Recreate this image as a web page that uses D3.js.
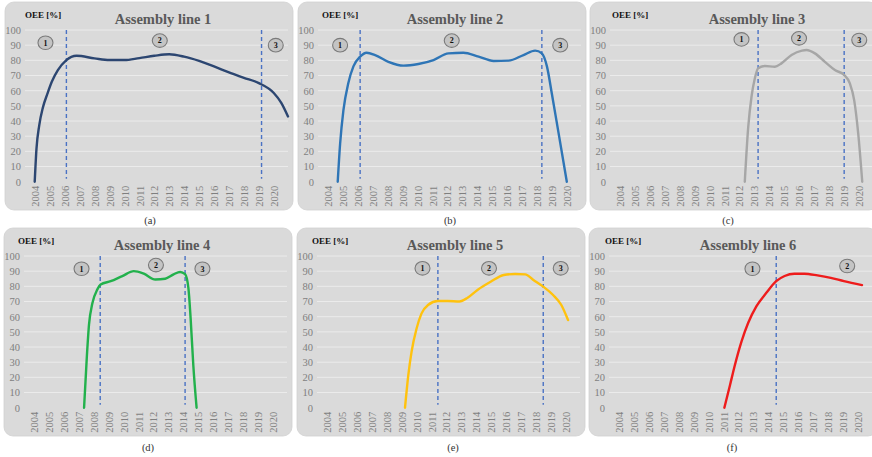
<!DOCTYPE html>
<html>
<head>
<meta charset="utf-8">
<script src="https://cdn.jsdelivr.net/npm/d3@7"></script>
<style>
  html, body { margin: 0; padding: 0; background: #ffffff; }
  svg { display: block; }
  svg text { font-family: "Liberation Serif", "DejaVu Serif", serif; }
</style>
</head>
<body>
<svg id="chart" width="872" height="457"></svg>
<script>
// ---------- DATA ----------
const yearLabels = ["2004","2005","2006","2007","2008","2009","2010","2011","2012",
                    "2013","2014","2015","2016","2017","2018","2019","2020"];
const yTickValues = [0, 10, 20, 30, 40, 50, 60, 70, 80, 90, 100];
const panelTitles = ["Assembly line 1","Assembly line 2","Assembly line 3",
                     "Assembly line 4","Assembly line 5","Assembly line 6"];
const panelCaptions = ["(a)","(b)","(c)","(d)","(e)","(f)"];
const lineColors = ["#2c4671","#2e75b6","#a6a6a6","#22b14c","#ffc20e","#ee1c1c"];

const line1Years = [2004,2004.12,2004.3,2004.55,2004.85,2005.15,2005.55,2006.1,2006.8,2008,2009,2010,2011,2012,2013,2014,2015,2016,2017,2018,2019,2020,2020.5,2020.95];
const line1OEE   = [0,22,37,49,58,66,73.5,80,83,81.3,80.2,80.2,81.5,83,84,82.4,79.6,76,72,68.5,65,58.5,52,43];

const line2Years = [2004.67,2004.83,2005.05,2005.38,2005.72,2006.17,2006.6,2007.17,2008.06,2009.07,2010.07,2011.08,2012.08,2013.08,2014.1,2015.1,2016.1,2017.1,2017.88,2018.33,2018.67,2019,2019.45,2020];
const line2OEE   = [0,25,47,65,76,82.4,85,83.5,79,76.5,77.6,80.2,84.6,85,82.4,79.6,79.8,83.5,86.4,84.6,76,58,32,0];

const line3Years = [2012.37,2012.6,2012.82,2013.04,2013.26,2013.71,2014.38,2014.82,2015.5,2016.2,2016.5,2017.06,2017.73,2018.4,2019.02,2019.4,2019.69,2019.96,2020.23];
const line3OEE   = [0,36,56,68,74.7,76.3,75.8,78,83.5,86.4,86.8,84.6,79,73.6,70.3,64.8,53.8,31.9,0];

const line4Years = [2007.37,2007.55,2007.7,2007.93,2008.26,2008.48,2009.15,2009.93,2010.7,2011.37,2012.14,2012.8,2013.36,2013.8,2014.13,2014.35,2014.5,2014.68,2014.9];
const line4OEE   = [0,32.7,54.7,69,78,81.2,83.4,86.8,90,88.3,84.5,85,87.9,89.5,88,79,59,28,0];

const line5Years = [2009.24,2009.46,2009.68,2010.01,2010.34,2010.78,2011.44,2012.1,2012.88,2013.43,2014.09,2014.97,2015.85,2016.6,2017.28,2017.83,2018.49,2019.15,2019.7,2020.15];
const line5OEE   = [0,21.5,37,52,62,67.7,70.3,70.3,70,72.5,77.6,83,87.5,88.1,87.9,84.2,79.8,74.3,67.7,57.8];

const line6Years = [2011.07,2011.45,2011.78,2012.22,2012.66,2013.22,2013.88,2014.54,2015.1,2015.76,2016.42,2017.3,2018.19,2019.07,2020.28];
const line6OEE   = [0,15,28.3,43.7,55.8,66.9,75.7,83.4,86.8,88.3,88.3,87.2,85.6,83.4,80.8];

const dividers1 = [2006.12, 2019.18];
const dividers2 = [2006.17, 2018.33];
const dividers3 = [2013.26, 2019.02];
const dividers4 = [2008.45, 2014.13];
const dividers5 = [2011.44, 2018.49];
const dividers6 = [2014.54];

const phases1 = [{n:"1", year:2004.72, oee:91.6},{n:"2", year:2012.37, oee:93},{n:"3", year:2020.13, oee:90}];
const phases2 = [{n:"1", year:2004.83, oee:90},{n:"2", year:2012.3, oee:93},{n:"3", year:2019.56, oee:90}];
const phases3 = [{n:"1", year:2012.15, oee:93.8},{n:"2", year:2016.0, oee:94.5},{n:"3", year:2020.03, oee:93.4}];
const phases4 = [{n:"1", year:2007.2, oee:91.6},{n:"2", year:2012.18, oee:94},{n:"3", year:2015.29, oee:91.6}];
const phases5 = [{n:"1", year:2010.41, oee:91.9},{n:"2", year:2014.86, oee:91.9},{n:"3", year:2019.66, oee:91.9}];
const phases6 = [{n:"1", year:2012.95, oee:91.6},{n:"2", year:2019.29, oee:93.4}];

// ---------- BUILD ----------
const series = [
  {years: line1Years, oee: line1OEE, div: dividers1, ph: phases1},
  {years: line2Years, oee: line2OEE, div: dividers2, ph: phases2},
  {years: line3Years, oee: line3OEE, div: dividers3, ph: phases3},
  {years: line4Years, oee: line4OEE, div: dividers4, ph: phases4},
  {years: line5Years, oee: line5OEE, div: dividers5, ph: phases5},
  {years: line6Years, oee: line6OEE, div: dividers6, ph: phases6}
];

const layout = [
  {ox:5,   oy:2,   tx:158, ux:20, cx:150, cy:220},
  {ox:298, oy:2,   tx:157, ux:24, cx:450, cy:220},
  {ox:590, oy:2,   tx:167, ux:22, cx:728, cy:220},
  {ox:4,   oy:228, tx:158, ux:14, cx:148, cy:447},
  {ox:297, oy:228, tx:158, ux:15, cx:453, cy:447},
  {ox:589, oy:228, tx:159, ux:16, cx:732, cy:447}
];

const FONT = "Liberation Serif, DejaVu Serif, serif";
const svg = d3.select("#chart");
svg.append("rect").attr("width", 872).attr("height", 457).attr("fill", "#ffffff");

series.forEach((s, i) => {
  const L = layout[i];
  const g = svg.append("g").attr("transform", `translate(${L.ox},${L.oy})`);
  const left = 20, right = 283, top = 28, bottom = 179.7;

  g.append("rect").attr("x", 0).attr("y", 0).attr("width", 288).attr("height", 208)
    .attr("rx", 9).attr("fill", "#dadada").attr("stroke", "#d0d0d0").attr("stroke-width", 0.8);

  const x = d3.scaleLinear().domain([2003.35, 2020.95]).range([left, right]);
  const y = d3.scaleLinear().domain([0, 100]).range([bottom, top]);

  // gridlines
  g.append("g").selectAll("line").data(yTickValues.filter(v => v > 0)).join("line")
    .attr("x1", left).attr("x2", right)
    .attr("y1", d => y(d)).attr("y2", d => y(d))
    .attr("stroke", "#ebebeb").attr("stroke-width", 1);

  // y axis
  const yAxis = d3.axisLeft(y).tickValues(yTickValues).tickSize(0).tickPadding(3);
  const ya = g.append("g").attr("transform", `translate(${left - 1},0)`).call(yAxis);
  ya.attr("font-family", null);
  ya.select(".domain").remove();
  ya.selectAll("text").style("font-family", FONT).style("font-size", "10.5px").attr("fill", "#7f7f7f");

  // x axis labels (rotated)
  const xb = d3.scalePoint().domain(yearLabels).range([x(2004), x(2020)]);
  const xAxis = d3.axisBottom(xb).tickSize(0).tickPadding(0);
  const xa = g.append("g").attr("transform", `translate(0,${bottom + 4})`).call(xAxis);
  xa.attr("font-family", null);
  xa.select(".domain").remove();
  xa.selectAll("text")
    .style("font-family", FONT).style("font-size", "10.5px").attr("fill", "#7f7f7f")
    .attr("transform", "rotate(-90)")
    .attr("text-anchor", "end").attr("x", 0).attr("y", 0).attr("dy", "0.35em");

  // dividers
  g.append("g").selectAll("line").data(s.div).join("line")
    .attr("x1", d => x(d)).attr("x2", d => x(d))
    .attr("y1", y(100)).attr("y2", y(2))
    .attr("stroke", "#4a72c4").attr("stroke-width", 1.4).attr("stroke-dasharray", "4,3");

  // line
  const pts = s.years.map((yr, k) => [yr, s.oee[k]]);
  const lineGen = d3.line().x(d => x(d[0])).y(d => y(d[1])).curve(d3.curveMonotoneX);
  g.append("path").datum(pts).attr("d", lineGen)
    .attr("fill", "none").attr("stroke", lineColors[i]).attr("stroke-width", 2.4)
    .attr("stroke-linecap", "round").attr("stroke-linejoin", "round");

  // phase markers
  const pm = g.append("g").selectAll("g").data(s.ph).join("g")
    .attr("transform", d => `translate(${x(d.year)},${y(d.oee)})`);
  pm.append("ellipse").attr("rx", 7.5).attr("ry", 6.8)
    .attr("fill", "#c4c4c4").attr("stroke", "#7a7a7a").attr("stroke-width", 1.1);
  pm.append("text").text(d => d.n).attr("text-anchor", "middle").attr("dy", "0.35em")
    .style("font-family", FONT).style("font-size", "8px").style("font-weight", "bold").attr("fill", "#111");

  // titles
  g.append("text").text(panelTitles[i]).attr("x", L.tx).attr("y", 22)
    .attr("text-anchor", "middle").style("font-family", FONT).style("font-size", "14.5px")
    .style("font-weight", "bold").attr("fill", "#595959");
  g.append("text").text("OEE [%]").attr("x", L.ux).attr("y", 16)
    .style("font-family", FONT).style("font-size", "9px").style("font-weight", "bold").attr("fill", "#111");

  // caption
  svg.append("text").text(panelCaptions[i]).attr("x", L.cx).attr("y", L.cy)
    .attr("text-anchor", "middle").attr("dy", "0.35em")
    .style("font-family", FONT).style("font-size", "10.5px").attr("fill", "#333");
});
</script>
</body>
</html>
